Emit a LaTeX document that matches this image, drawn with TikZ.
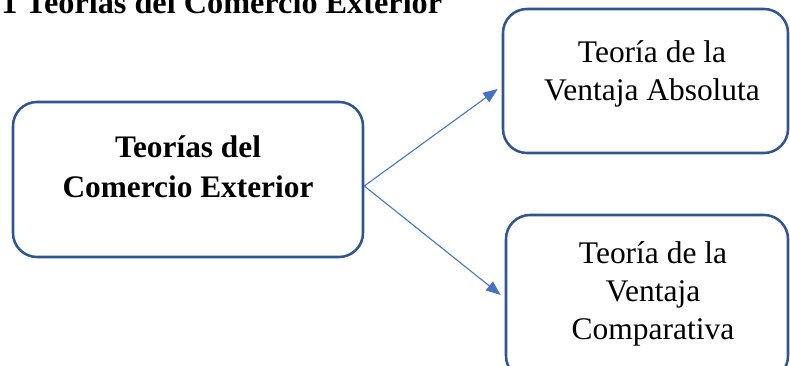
\documentclass[tikz,border=0pt]{standalone}
\usepackage{fontspec}
\setmainfont{Liberation Serif}
\usetikzlibrary{arrows.meta,calc}
\definecolor{boxblue}{RGB}{47,85,151}
\definecolor{arrowblue}{RGB}{68,114,196}
\tikzset{
  px/.style={x=0.75pt,y=-0.75pt},
  roundbox/.style={draw=boxblue,line width=1.9pt,rounded corners=18pt,inner sep=0pt,fill=none},
  boxtext/.style={inner sep=0pt,align=center,font=\fontsize{23.6}{28.5}\selectfont},
  boldtext/.style={inner sep=0pt,align=center,font=\fontsize{23.5}{30}\selectfont\bfseries},
  link/.style={draw=arrowblue,line width=0.8pt,-{Triangle[length=11pt,width=8.5pt]}}
}
\begin{document}
\begin{tikzpicture}[px]
\useasboundingbox (0,0) rectangle (790,366);
\clip (0,0) rectangle (790,366);
% caption (cut at top)
\node[anchor=base west,inner sep=0pt,font=\fontsize{24.2}{28}\selectfont\bfseries] (cap) at (1,13.5) {1 Teorías del Comercio Exterior};
% boxes
\node[roundbox,minimum width=350*0.75pt,minimum height=155*0.75pt] (L) at (188,179.5) {};
\node[roundbox,minimum width=285*0.75pt,minimum height=144*0.75pt] (T) at (645.5,81) {};
\node[roundbox,minimum width=282*0.75pt,minimum height=165*0.75pt] (B) at (647,297.5) {};
% texts
\node[boldtext] (Lt) at (188,167) {Teorías del\\Comercio Exterior};
\node[boxtext] (Tt) at (652,74) {Teoría de la\\Ventaja Absoluta};
\node[boxtext] (Bt) at (653,294) {Teoría de la\\Ventaja\\Comparativa};
% connectors
\coordinate (S) at ($(L.east)+(0,6.5)$);
\draw[link] (S) -- ($(T.west)+(-4,8)$);
\draw[link] (S) -- ($(B.west)+(-4,-2.5)$);
\end{tikzpicture}
\end{document}
